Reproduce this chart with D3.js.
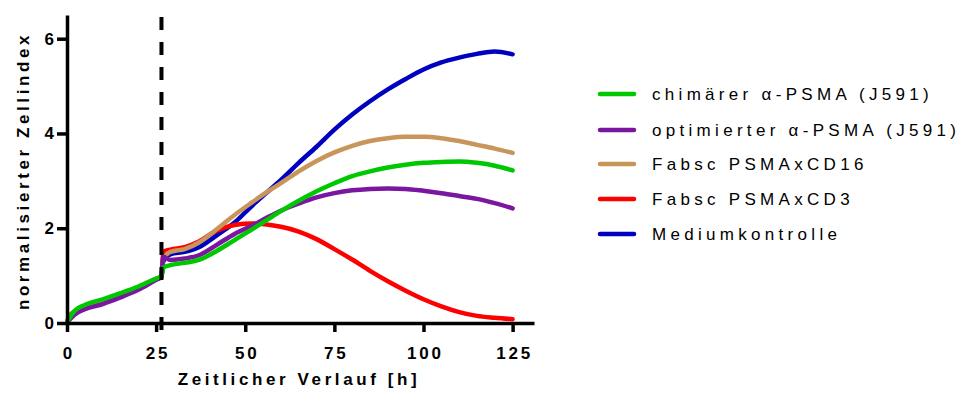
<!DOCTYPE html>
<html>
<head>
<meta charset="utf-8">
<script src="https://cdn.jsdelivr.net/npm/d3@7"></script>
<style>
  html, body { margin: 0; padding: 0; background: #fff; }
  svg { display: block; font-family: Arial, "Liberation Sans", sans-serif; }
</style>
</head>
<body>
<div id="chart"></div>
<script>
const width = 960, height = 397;

// time points (h)
const hours = [0, 0.5, 2, 5, 10, 15, 20, 25, 26.5, 27, 29, 33, 37, 42, 47, 52, 56, 60, 65, 70, 75, 80, 85, 90, 95, 100, 105, 110, 115, 120, 125];

const chimaer     = [0, 0.08, 0.25, 0.38, 0.5, 0.63, 0.77, 0.94, 0.99, 1.17, 1.22, 1.27, 1.33, 1.52, 1.75, 1.98, 2.17, 2.36, 2.58, 2.78, 2.95, 3.1, 3.2, 3.28, 3.34, 3.38, 3.4, 3.41, 3.38, 3.32, 3.22];
const optimiert   = [0, 0.05, 0.17, 0.29, 0.4, 0.54, 0.7, 0.91, 0.97, 1.4, 1.33, 1.36, 1.43, 1.65, 1.88, 2.06, 2.22, 2.37, 2.52, 2.65, 2.74, 2.8, 2.83, 2.84, 2.83, 2.79, 2.74, 2.68, 2.62, 2.53, 2.42];
const cd16        = [0, 0.1, 0.22, 0.34, 0.45, 0.58, 0.74, 0.93, 0.98, 1.35, 1.5, 1.56, 1.7, 1.98, 2.28, 2.55, 2.76, 2.95, 3.2, 3.42, 3.6, 3.74, 3.84, 3.9, 3.93, 3.93, 3.9, 3.84, 3.76, 3.68, 3.59];
const cd3         = [0, 0.12, 0.24, 0.35, 0.46, 0.59, 0.75, 0.93, 0.98, 1.5, 1.55, 1.6, 1.72, 1.95, 2.07, 2.1, 2.08, 2.03, 1.93, 1.77, 1.56, 1.34, 1.1, 0.88, 0.68, 0.5, 0.35, 0.23, 0.15, 0.11, 0.08];
const medium      = [0, 0.1, 0.22, 0.34, 0.45, 0.58, 0.74, 0.93, 0.98, 1.3, 1.45, 1.5, 1.6, 1.85, 2.12, 2.48, 2.75, 3.02, 3.38, 3.72, 4.08, 4.4, 4.68, 4.93, 5.15, 5.35, 5.5, 5.6, 5.68, 5.73, 5.67];

const seriesNames = ["chimärer α-PSMA (J591)", "optimierter α-PSMA (J591)", "Fabsc PSMAxCD16", "Fabsc PSMAxCD3", "Mediumkontrolle"];
const seriesValues = [chimaer, optimiert, cd16, cd3, medium];
const seriesColors = ["#00c800", "#7a16a0", "#c8965a", "#ff0000", "#0000c0"];
const drawOrder = [4, 3, 2, 1, 0];

const xTicks = [0, 25, 50, 75, 100, 125];
const yTicks = [0, 2, 4, 6];
const treatmentTime = 26.5;

const svg = d3.select("#chart").append("svg")
  .attr("width", width)
  .attr("height", height);

const x = d3.scaleLinear().domain([0, 131]).range([67, 534]);
const y = d3.scaleLinear().domain([0, 6.5]).range([323, 15]);

const line = d3.line()
  .x((d, i) => x(hours[i]))
  .y(d => y(d))
  .curve(d3.curveMonotoneX);

// data lines
svg.append("g")
  .selectAll("path")
  .data(drawOrder)
  .join("path")
  .attr("d", i => line(seriesValues[i]))
  .attr("fill", "none")
  .attr("stroke", i => seriesColors[i])
  .attr("stroke-width", 4.5)
  .attr("stroke-linejoin", "round")
  .attr("stroke-linecap", "round");

// dashed treatment line
svg.append("line")
  .attr("x1", x(treatmentTime)).attr("x2", x(treatmentTime))
  .attr("y1", 17).attr("y2", 333)
  .attr("stroke", "#000")
  .attr("stroke-width", 4)
  .attr("stroke-dasharray", "13,12");

// axes
const xAxis = svg.append("g")
  .attr("transform", `translate(0,${y(0)})`)
  .call(d3.axisBottom(x).tickValues(xTicks).tickSize(9).tickSizeOuter(0).tickPadding(15));

const yAxis = svg.append("g")
  .attr("transform", `translate(${x(0)},0)`)
  .call(d3.axisLeft(y).tickValues(yTicks).tickFormat(d3.format("d")).tickSize(10).tickSizeOuter(0).tickPadding(3));

[xAxis, yAxis].forEach(g => {
  g.select(".domain").attr("stroke", "#000").attr("stroke-width", 3.5);
  g.selectAll(".tick line").attr("stroke", "#000").attr("stroke-width", 3.5);
  g.selectAll(".tick text")
    .attr("fill", "#000")
    .style("font-size", "17px")
    .style("font-weight", "bold")
    .style("font-family", "Arial, 'Liberation Sans', sans-serif");
});
xAxis.selectAll(".tick text").style("letter-spacing", "2.8px").attr("dx", "1.4px");

// axis titles
svg.append("text")
  .attr("x", 299)
  .attr("y", 385)
  .attr("text-anchor", "middle")
  .style("font-size", "17px")
  .style("font-weight", "bold")
  .style("letter-spacing", "3.6px")
  .text("Zeitlicher Verlauf [h]");

svg.append("text")
  .attr("transform", "translate(29,171) rotate(-90)")
  .attr("text-anchor", "middle")
  .style("font-size", "17px")
  .style("font-weight", "bold")
  .style("letter-spacing", "3.6px")
  .text("normalisierter Zellindex");

// legend
const legendY = [94, 130, 164, 199, 234];
const legend = svg.append("g")
  .selectAll("g")
  .data(seriesNames)
  .join("g")
  .attr("transform", (d, i) => `translate(0,${legendY[i]})`);

legend.append("line")
  .attr("x1", 600).attr("x2", 634)
  .attr("stroke", (d, i) => seriesColors[i])
  .attr("stroke-width", 4.5)
  .attr("stroke-linecap", "round");

legend.append("text")
  .attr("x", 652)
  .attr("y", 6)
  .style("font-size", "17px")
  .style("letter-spacing", "4.3px")
  .text(d => d);
</script>
</body>
</html>
